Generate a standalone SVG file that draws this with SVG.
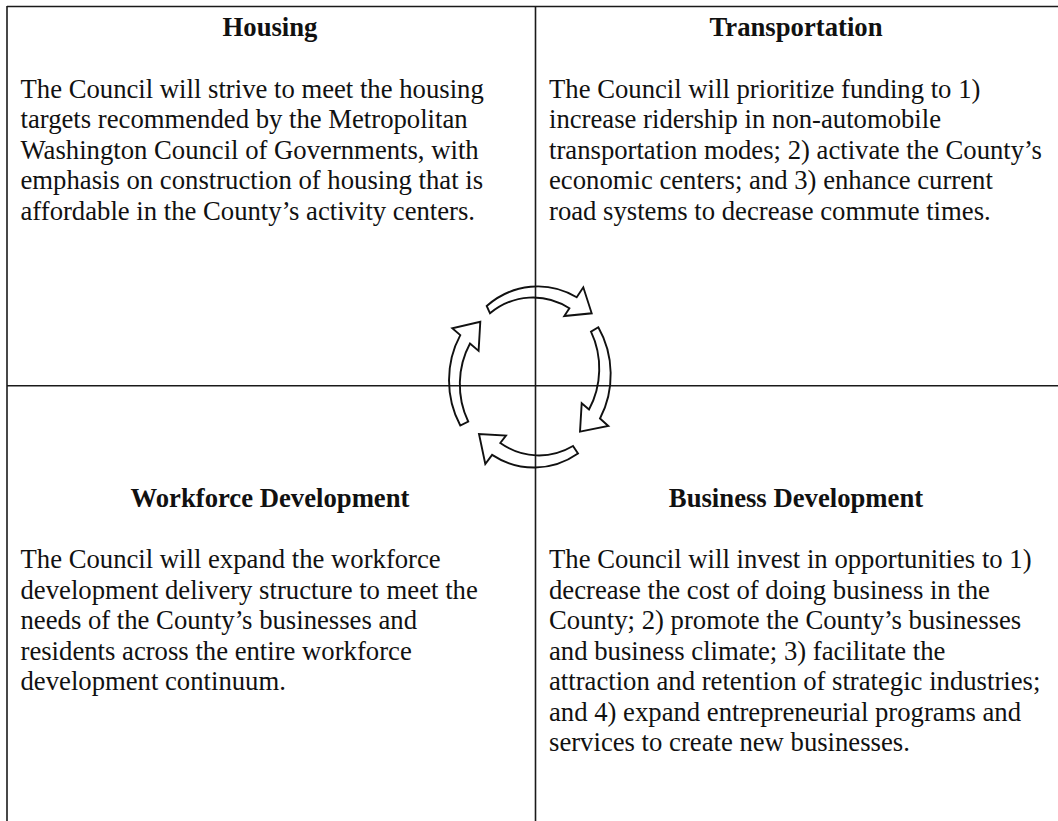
<svg xmlns="http://www.w3.org/2000/svg" width="1058" height="821" viewBox="0 0 1058 821">
<style>
.grid{stroke:#1a1a1a;stroke-width:1.6;fill:none}
.title{font-family:"Liberation Serif","Times New Roman",serif;font-size:26.7px;font-weight:bold;fill:#111;text-anchor:middle}
.body{font-family:"Liberation Serif","Times New Roman",serif;font-size:26.7px;fill:#111}
.arrow{fill:none;stroke:#111;stroke-width:1.9;stroke-linejoin:miter}
</style>
<rect width="1058" height="821" fill="#ffffff"/>
<g id="grid">
<line class="grid" x1="7" y1="6.5" x2="1058" y2="6.5"/>
<line class="grid" x1="7" y1="6" x2="7" y2="821"/>
<line class="grid" x1="535.5" y1="6" x2="535.5" y2="821"/>
<line class="grid" x1="7" y1="385.7" x2="1058" y2="385.7"/>
</g>
<g id="housing">
<text class="title" x="270" y="35.5">Housing</text>
<text class="body" x="20.5" y="97.5">The Council will strive to meet the housing</text>
<text class="body" x="20.5" y="128">targets recommended by the Metropolitan</text>
<text class="body" x="20.5" y="158.5">Washington Council of Governments, with</text>
<text class="body" x="20.5" y="189">emphasis on construction of housing that is</text>
<text class="body" x="20.5" y="219.5">affordable in the County’s activity centers.</text>
</g>
<g id="transportation">
<text class="title" x="796" y="35.5">Transportation</text>
<text class="body" x="549" y="97.5">The Council will prioritize funding to 1)</text>
<text class="body" x="549" y="128">increase ridership in non-automobile</text>
<text class="body" x="549" y="158.5">transportation modes; 2) activate the County’s</text>
<text class="body" x="549" y="189">economic centers; and 3) enhance current</text>
<text class="body" x="549" y="219.5">road systems to decrease commute times.</text>
</g>
<g id="workforce-development">
<text class="title" x="270" y="507">Workforce Development</text>
<text class="body" x="20.5" y="568">The Council will expand the workforce</text>
<text class="body" x="20.5" y="598.5">development delivery structure to meet the</text>
<text class="body" x="20.5" y="629">needs of the County’s businesses and</text>
<text class="body" x="20.5" y="659.5">residents across the entire workforce</text>
<text class="body" x="20.5" y="690">development continuum.</text>
</g>
<g id="business-development">
<text class="title" x="796" y="507">Business Development</text>
<text class="body" x="549" y="568">The Council will invest in opportunities to 1)</text>
<text class="body" x="549" y="598.5">decrease the cost of doing business in the</text>
<text class="body" x="549" y="629">County; 2) promote the County’s businesses</text>
<text class="body" x="549" y="659.5">and business climate; 3) facilitate the</text>
<text class="body" x="549" y="690">attraction and retention of strategic industries;</text>
<text class="body" x="549" y="720.5">and 4) expand entrepreneurial programs and</text>
<text class="body" x="549" y="751">services to create new businesses.</text>
</g>
<g id="connectors">
<path class="arrow" d="M486.7,306 A81.5,89 0 0 1 576.7,297.3 L583.3,287.3 L591.7,313.3 L564.3,316 L569.4,308.3 A72,79.5 0 0 0 490,313.3 Z"/>
<path class="arrow" d="M598.3,327.3 A81.5,89 0 0 1 600,418.5 L608.3,426 L580,431.7 L581.7,403.3 L589,409.5 A72,79.5 0 0 0 591,331.7 Z"/>
<path class="arrow" d="M578,453.5 A81.5,89 0 0 1 492.1,454.9 L485.3,464 L479,434 L506,435.5 L500.3,443 A72,79.5 0 0 0 573,446 Z"/>
<path class="arrow" d="M460.3,425.5 A81.5,89 0 0 1 460.3,335.1 L452.3,328.2 L480.3,321.7 L478.6,350.9 L470,343.5 A72,79.5 0 0 0 468.2,421.5 Z"/>
</g>
</svg>
